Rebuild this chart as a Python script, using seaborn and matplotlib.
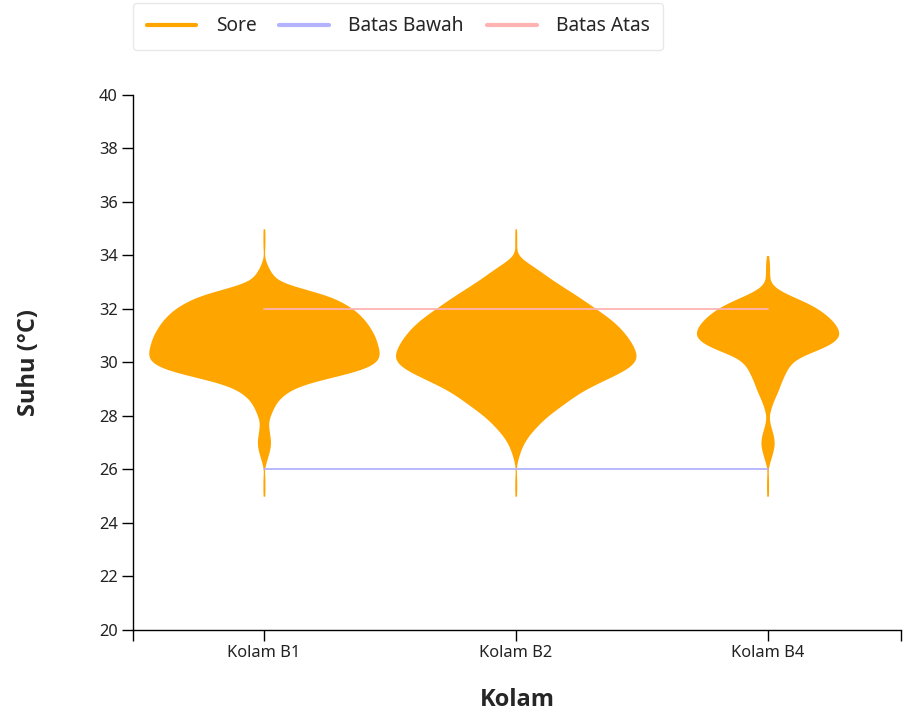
import numpy as np
import pandas as pd
import seaborn as sns
import matplotlib.pyplot as plt
from matplotlib.lines import Line2D

# suhu grid (°C) and estimated number of readings at each value, per kolam
suhu_grid = [25.0, 25.25, 25.5, 25.75, 26.0, 26.25, 26.5, 26.75, 27.0, 27.25,
             27.5, 27.75, 28.0, 28.25, 28.5, 28.75, 29.0, 29.25, 29.5, 29.75,
             30.0, 30.25, 30.5, 30.75, 31.0, 31.25, 31.5, 31.75, 32.0, 32.25,
             32.5, 32.75, 33.0, 33.25, 33.5, 33.75, 34.0, 34.25, 34.5, 34.75, 35.0]

count_b1 = [1, 1, 1, 1, 0, 2, 4, 6, 7, 6,
            5, 4, 6, 9, 12, 18, 27, 44, 74, 100,
            112, 115, 114, 112, 110, 106, 102, 96, 89, 78,
            65, 40, 15, 9, 5, 2, 0, 1, 1, 1, 1]
count_b2 = [1, 1, 1, 1, 0, 1, 3, 5, 8, 12,
            18, 24, 31, 40, 49, 58, 68, 82, 96, 110,
            118, 120, 117, 114, 109, 104, 97, 89, 79, 70,
            60, 50, 39, 30, 21, 11, 0, 1, 1, 1, 1]
count_b4 = [1, 1, 1, 1, 0, 2, 4, 6, 7, 6,
            4, 2, 1, 3, 5, 8, 11, 13, 16, 19,
            23, 32, 52, 65, 71, 69, 65, 58, 50, 38,
            22, 8, 2, 2, 2, 2, 1, 0, 0, 0, 0]

kolam = ['Kolam B1', 'Kolam B2', 'Kolam B4']
batas_bawah = [26, 26, 26]
batas_atas = [32, 32, 32]

counts = {'Kolam B1': count_b1, 'Kolam B2': count_b2, 'Kolam B4': count_b4}
# full violin width per kolam (fraction of category step)
lebar = {'Kolam B1': 0.915, 'Kolam B2': 0.955, 'Kolam B4': 0.565}

rows = []
for k in kolam:
    vals = np.repeat(suhu_grid, counts[k])
    rows.append(pd.DataFrame({'Kolam': k, 'Suhu': vals}))
df = pd.concat(rows, ignore_index=True)

sns.set_style('white')
plt.rcParams['font.family'] = ['Noto Sans', 'DejaVu Sans']

orange = '#FFA500'
blue = '#b3b3ff'
pink = '#ffb3b3'
label_font = ['Open Sans', 'Noto Sans', 'DejaVu Sans']

fig = plt.figure(figsize=(9.06, 7.18), dpi=100)
ax = fig.add_axes([0.1468, 0.1226, 0.8477, 0.7451])

for k in kolam:
    sns.violinplot(data=df[df['Kolam'] == k], x='Kolam', y='Suhu', order=kolam, ax=ax,
                   color=orange, saturation=1, linewidth=0, inner=None,
                   cut=0, bw_method=0.15, gridsize=400,
                   density_norm='width', width=lebar[k])

pos = np.arange(len(kolam))
ax.plot(pos, batas_bawah, color=blue, lw=1.3, zorder=5)
ax.plot(pos, batas_atas, color=pink, lw=1.3, zorder=5)

ax.set_xlim(-0.52, 2.53)
ax.set_ylim(20, 40)
ax.set_yticks(np.arange(20, 41, 2))
ax.set_xticks([-0.52, 2.53], minor=True)
sns.despine(ax=ax)
for s in ['left', 'bottom']:
    ax.spines[s].set_color('black')
    ax.spines[s].set_linewidth(1.0)
ax.tick_params(axis='both', which='both', direction='out', length=8, width=1.0, pad=3,
               color='black', labelsize=11.8, labelcolor='#222222', left=True, bottom=True)

ax.set_xlabel('Kolam', family=label_font, fontsize=17, fontweight='bold', labelpad=19)
ax.set_ylabel('Suhu (°C)', family=label_font, fontsize=17, fontweight='bold', labelpad=42)

handles = [Line2D([], [], color=orange, lw=3),
           Line2D([], [], color=blue, lw=3),
           Line2D([], [], color=pink, lw=3)]
leg = fig.legend(handles, ['Sore', 'Batas Bawah', 'Batas Atas'], loc='upper left',
                 bbox_to_anchor=(0.147, 0.996), borderaxespad=0, ncol=3,
                 frameon=True, fancybox=True,
                 prop={'family': 'Noto Sans', 'size': 13.8}, handlelength=2.6,
                 handletextpad=1.0, columnspacing=1.2, borderpad=0.7)
leg.get_frame().set_edgecolor('#e3e3e3')
leg.get_frame().set_linewidth(1.0)

fig.savefig('out.png', dpi=100)
